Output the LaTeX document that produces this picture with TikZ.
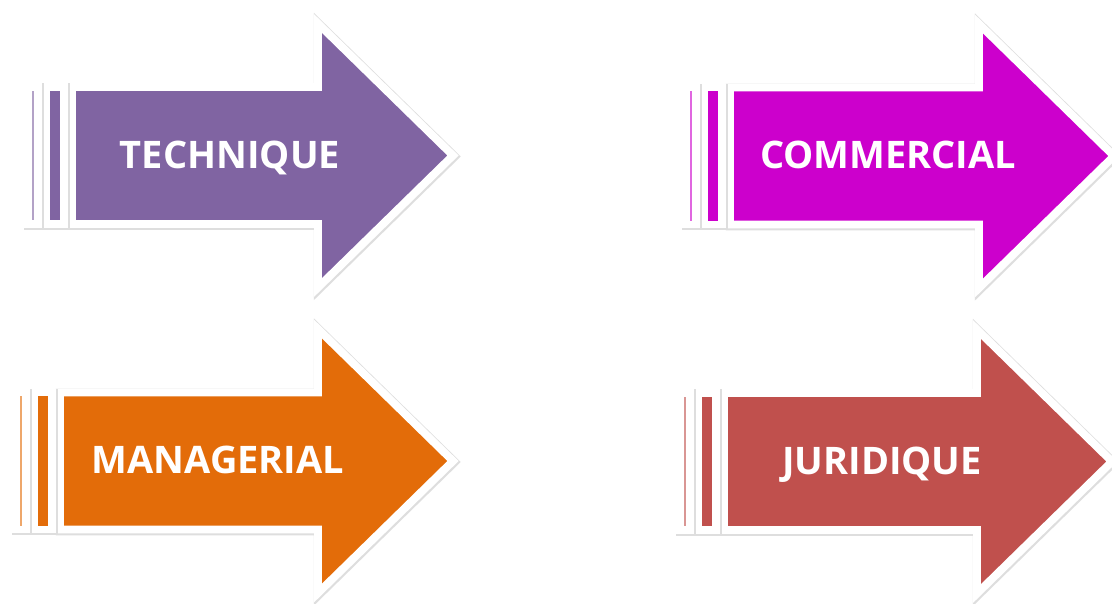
\documentclass[tikz,border=0pt]{standalone}
\usepackage{fontspec}
\usepackage{xcolor}
\usetikzlibrary{positioning}
\newfontfamily\arrowfont{Open Sans}
\definecolor{technique}{RGB}{128, 100, 162}
\definecolor{commercial}{RGB}{204, 0, 204}
\definecolor{managerial}{RGB}{227, 108, 9}
\definecolor{juridique}{RGB}{192, 80, 77}

\begin{document}
\begin{tikzpicture}[
    x=0.025cm, y=-0.025cm,
    band/.style={draw=white, line width=5.6pt, line join=miter,
                 preaction={draw=black!13, fill=black!13, line width=7pt,
                            transform canvas={shift={(0.5pt,-0.7pt)}}}},
    label/.style={text=white, font=\arrowfont\bfseries\fontsize{27}{30}\selectfont, anchor=base}
]

\useasboundingbox[fill=white] (0,0) rectangle (1112,604);

% Four striped arrows: left edge / tip / centre line / colour / text
\foreach \xl/\xt/\yc/\col/\txt [count=\i] in {24/447/155.5/technique/TECHNIQUE,
                                              682/1108/156/commercial/COMMERCIAL,
                                              12/447/461/managerial/MANAGERIAL,
                                              676/1106/461.5/juridique/JURIDIQUE}
{
  % Arrow body
  \draw[band, fill=\col] ({\xl+48},{\yc-68.5}) -- ({\xt-129},{\yc-68.5}) -- ({\xt-129},{\yc-132})
        -- ({\xt+6},{\yc}) -- ({\xt-129},{\yc+132}) -- ({\xt-129},{\yc+68.5})
        -- ({\xl+48},{\yc+68.5}) -- cycle;
  % Wide stripe
  \draw[band, fill=\col] ({\xl+22},{\yc-68.5}) rectangle ({\xl+40},{\yc+68.5});
  % Thin stripe
  \draw[band, fill=\col!60] ({\xl+4},{\yc-68.5}) rectangle ({\xl+14},{\yc+68.5});
  % Label
  \node[label] (lbl\i) at ({\xl+206},{\yc+12.5}) {\txt};
}

\end{tikzpicture}
\end{document}
